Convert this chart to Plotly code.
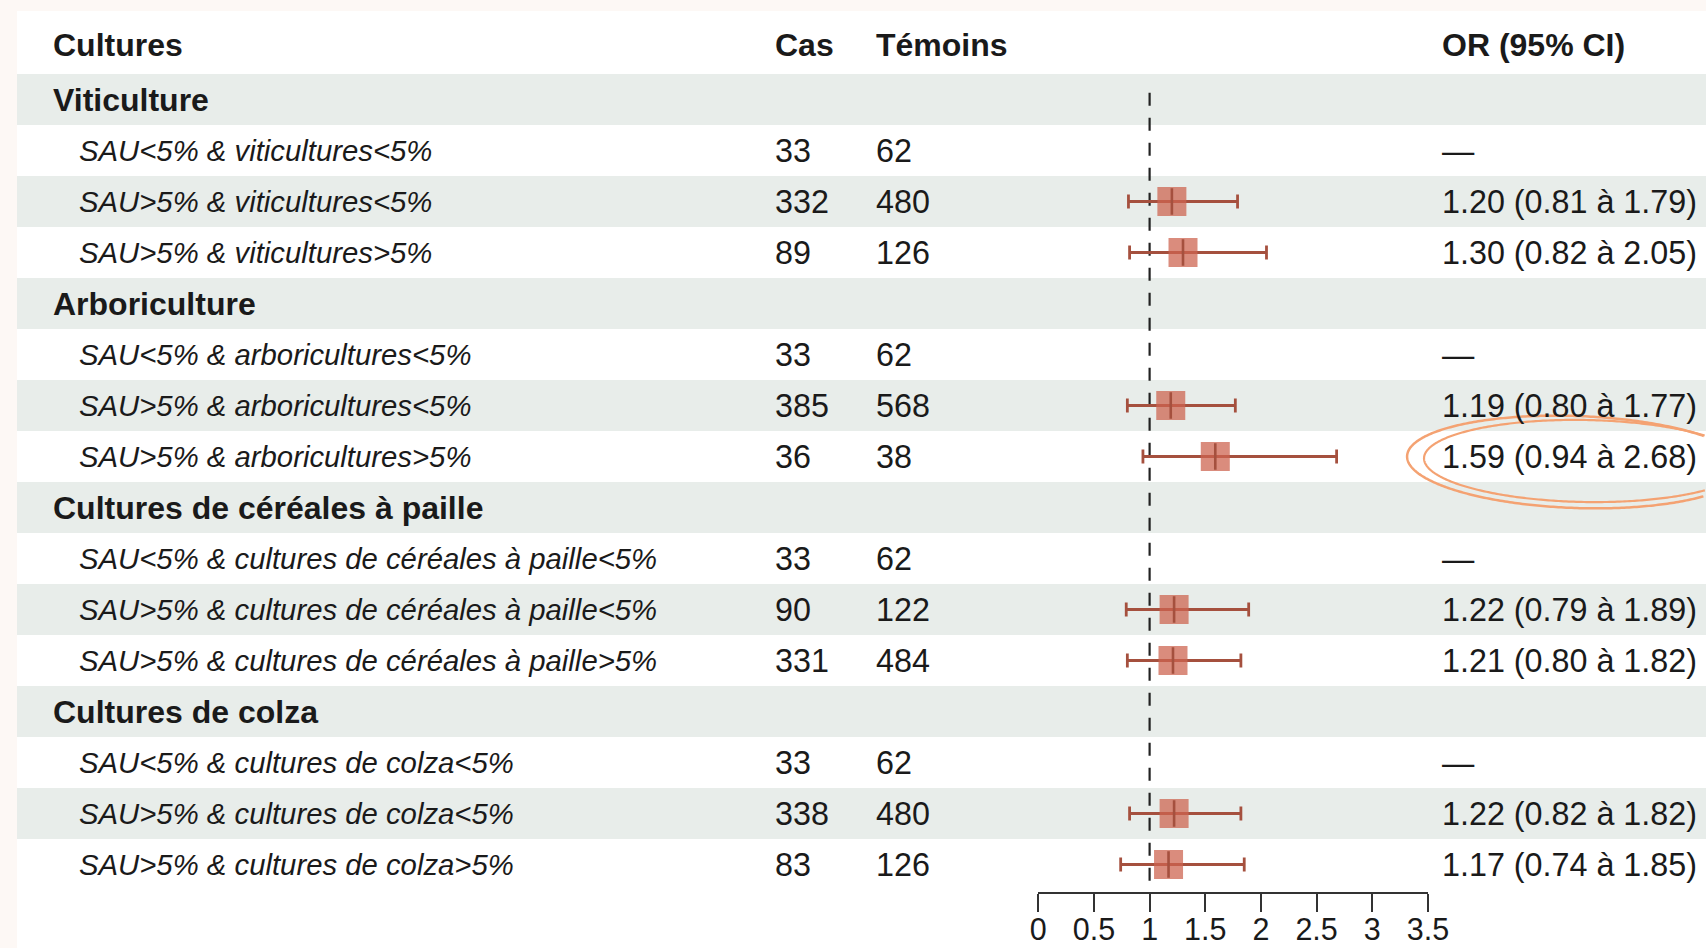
import math
import plotly.graph_objects as go

# ---------------- data ----------------
groups = ["Viticulture", "Arboriculture", "Cultures de céréales à paille", "Cultures de colza"]
sub_labels = [
    "SAU<5% & viticultures<5%", "SAU>5% & viticultures<5%", "SAU>5% & viticultures>5%",
    "SAU<5% & arboricultures<5%", "SAU>5% & arboricultures<5%", "SAU>5% & arboricultures>5%",
    "SAU<5% & cultures de céréales à paille<5%", "SAU>5% & cultures de céréales à paille<5%",
    "SAU>5% & cultures de céréales à paille>5%",
    "SAU<5% & cultures de colza<5%", "SAU>5% & cultures de colza<5%", "SAU>5% & cultures de colza>5%",
]
cas = [33, 332, 89, 33, 385, 36, 33, 90, 331, 33, 338, 83]
temoins = [62, 480, 126, 62, 568, 38, 62, 122, 484, 62, 480, 126]
or_est = [None, 1.20, 1.30, None, 1.19, 1.59, None, 1.22, 1.21, None, 1.22, 1.17]
ci_low = [None, 0.81, 0.82, None, 0.80, 0.94, None, 0.79, 0.80, None, 0.82, 0.74]
ci_high = [None, 1.79, 2.05, None, 1.77, 2.68, None, 1.89, 1.82, None, 1.82, 1.85]
tick_vals = [0, 0.5, 1, 1.5, 2, 2.5, 3, 3.5]
tick_text = ["0", "0.5", "1", "1.5", "2", "2.5", "3", "3.5"]
col_headers = ["Cultures", "Cas", "Témoins", "OR (95% CI)"]
ref_value = 1

# ---------------- layout constants ----------------
W, H = 1706, 948
FONT = "Liberation Sans, Arial, Helvetica, sans-serif"
TXT = "#1a1a1a"
BAND = "#E8EDEA"
LINE_COL = "#A5503E"
BOX_COL = "rgba(205,100,80,0.74)"
ORANGE = "#F4A272"

def px(x):
    return x / W

def py(y):
    return 1 - y / H

def esc(s):
    return s.replace("<", "&lt;").replace(">", "&gt;")

# rows: group header rows and sub rows, index 1..16
row_y = []
group_y = []
k = 1
for g in range(len(groups)):
    group_y.append(k)
    k += 1
    for j in range(3):
        row_y.append(k)
        k += 1
n_rows = k - 1

fig = go.Figure()

shapes = []
# white panel
shapes.append(dict(type="rect", xref="paper", yref="paper", x0=px(17), x1=1, y0=0, y1=py(11),
                   fillcolor="white", line=dict(width=0), layer="below"))
# bands
for r in range(1, n_rows + 1, 2):
    shapes.append(dict(type="rect", xref="paper", yref="y", x0=px(17), x1=1, y0=r - 0.5, y1=r + 0.5,
                       fillcolor=BAND, line=dict(width=0), layer="below"))
# reference dashed line
shapes.append(dict(type="line", xref="x", yref="y", x0=ref_value, x1=ref_value, y0=0.87, y1=16.54,
                   line=dict(color="#222222", width=2.2, dash="13px,12px"), layer="below"))

# hand-drawn ellipse highlight (clipped to the figure's right edge)
def ellipse_path(cx, cy, rx, ry, rot_deg, t0=0.0, t1=2 * math.pi, n=400):
    a = math.radians(rot_deg)
    parts = []
    pen_down = False
    for i in range(n + 1):
        t = t0 + (t1 - t0) * i / n
        ex, ey = rx * math.cos(t), ry * math.sin(t)
        x = cx + ex * math.cos(a) - ey * math.sin(a)
        y = cy + ex * math.sin(a) + ey * math.cos(a)
        if x > W - 1:
            pen_down = False
            continue
        cmd = "L" if pen_down else "M"
        parts.append(f"{cmd} {px(x):.5f},{py(y):.5f}")
        pen_down = True
    return " ".join(parts)

shapes.append(dict(type="path", xref="paper", yref="paper",
                   path=ellipse_path(1576, 462, 169, 46, 2),
                   line=dict(color=ORANGE, width=2.5)))
shapes.append(dict(type="path", xref="paper", yref="paper",
                   path=ellipse_path(1585, 461, 161, 41, 1, 0.2, 2 * math.pi + 0.3),
                   line=dict(color=ORANGE, width=2.2)))

annotations = []

def add_text(text, x, y, yref="y", size=32, bold=False, italic=False, yshift=0):
    t = esc(text)
    if bold:
        t = "<b>" + t + "</b>"
    if italic:
        t = "<i>" + t + "</i>"
    annotations.append(dict(text=t, x=x, y=y, xref="paper", yref=yref, xanchor="left", yanchor="middle",
                            showarrow=False, font=dict(family=FONT, size=size, color=TXT), yshift=yshift))

# column headers
hx = [51, 773, 874, 1440]
for name, x in zip(col_headers, hx):
    add_text(name, px(x), py(45), yref="paper", size=32, bold=True)

for g, y in zip(groups, group_y):
    add_text(g, px(51), y, size=32, bold=True)

for i, y in enumerate(row_y):
    add_text(sub_labels[i], px(77), y, size=29.3, italic=True)
    add_text(str(cas[i]), px(773), y, size=32.3)
    add_text(str(temoins[i]), px(874), y, size=32.3)
    if or_est[i] is None:
        add_text("—", px(1440), y, size=32.3)
    else:
        add_text(f"{or_est[i]:.2f} ({ci_low[i]:.2f} à {ci_high[i]:.2f})", px(1440), y, size=32.3)

# forest plot points
xs, ys, ep, em = [], [], [], []
for i, y in enumerate(row_y):
    if or_est[i] is not None:
        xs.append(or_est[i])
        ys.append(y)
        ep.append(ci_high[i] - or_est[i])
        em.append(or_est[i] - ci_low[i])

fig.add_trace(go.Scatter(
    x=xs, y=ys, mode="markers",
    marker=dict(symbol="square", size=29, color=BOX_COL, line=dict(width=0)),
    error_x=dict(type="data", symmetric=False, array=ep, arrayminus=em,
                 color=LINE_COL, thickness=2.8, width=7),
    showlegend=False, hoverinfo="skip"))
fig.add_trace(go.Scatter(
    x=xs, y=ys, mode="markers",
    marker=dict(symbol="line-ns", size=19, line=dict(color=LINE_COL, width=2.6)),
    showlegend=False, hoverinfo="skip"))

fig.update_layout(
    width=W, height=H,
    margin=dict(l=0, r=0, t=0, b=0, pad=0, autoexpand=False),
    paper_bgcolor="#FDF8F5",
    plot_bgcolor="rgba(0,0,0,0)",
    shapes=shapes,
    annotations=annotations,
    hovermode=False,
    xaxis=dict(domain=[px(1038.3), px(1427.9)], range=[0, 3.5], showgrid=False, zeroline=False,
               automargin=False,
               showline=True, linecolor="#333333", linewidth=1.5,
               ticks="outside", ticklen=18, tickwidth=1.5, tickcolor="#333333",
               ticklabelstandoff=-8,
               tickvals=tick_vals, ticktext=tick_text,
               tickfont=dict(family=FONT, size=30.5, color=TXT)),
    yaxis=dict(domain=[1 - 892 / H, 1], range=[16.539, -0.951], visible=False, automargin=False),
)

page_css = "margin:0;padding:0;overflow:hidden;"
fig.write_html(
    "out.html",
    config={"displayModeBar": False},
    post_script=(
        "document.documentElement.style.cssText='" + page_css + "';"
        "document.body.style.cssText='" + page_css + "';"
    ),
)
